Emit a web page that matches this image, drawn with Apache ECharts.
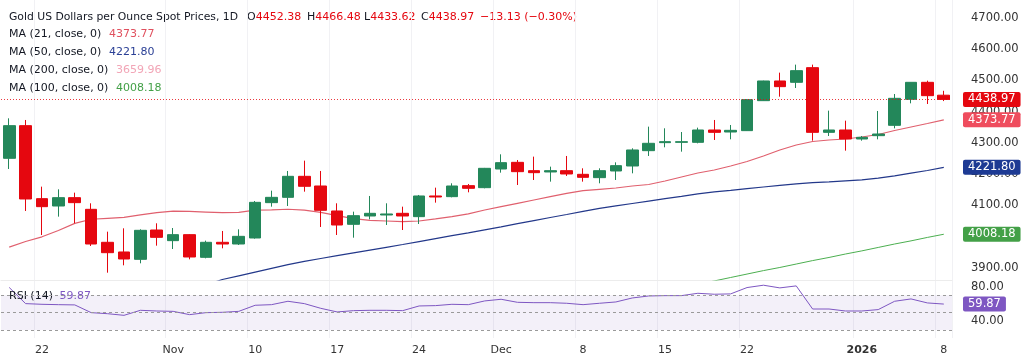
<!DOCTYPE html>
<html><head><meta charset="utf-8">
<script src="https://cdn.jsdelivr.net/npm/echarts@6/dist/echarts.min.js"></script>
<style>html,body{margin:0;padding:0;background:#fff}#c{width:1024px;height:364px}</style>
</head><body><div id="c"></div>
<script>
const dates = ['2025-10-20','2025-10-21','2025-10-22','2025-10-23','2025-10-24','2025-10-27','2025-10-28','2025-10-29','2025-10-30','2025-10-31',
'2025-11-03','2025-11-04','2025-11-05','2025-11-06','2025-11-07','2025-11-10','2025-11-11','2025-11-12','2025-11-13','2025-11-14',
'2025-11-17','2025-11-18','2025-11-19','2025-11-20','2025-11-21','2025-11-24','2025-11-25','2025-11-26','2025-11-27','2025-11-28',
'2025-12-01','2025-12-02','2025-12-03','2025-12-04','2025-12-05','2025-12-08','2025-12-09','2025-12-10','2025-12-11','2025-12-12',
'2025-12-15','2025-12-16','2025-12-17','2025-12-18','2025-12-19','2025-12-22','2025-12-23','2025-12-24','2025-12-26','2025-12-29',
'2025-12-30','2025-12-31','2026-01-01','2026-01-02','2026-01-05','2026-01-06','2026-01-07','2026-01-08'];
const tickDates = ['2025-10-22','2025-11-03','2025-11-10','2025-11-17','2025-11-24','2025-12-01','2025-12-08','2025-12-15','2025-12-22','2026-01-01','2026-01-08'];
const tickLabels = ['22','Nov','10','17','24','Dec','8','15','22','2026','8'];

const openV = [4250.7,4355.1,4121.9,4098.4,4125.1,4087.8,3982.4,3951.5,3928.0,4021.7,
3987.7,4006.9,3934.4,3982.4,3977.0,3996.2,4109.1,4126.1,4193.2,4162.3,
4082.5,4039.9,4066.5,4069.7,4075.0,4064.4,4130.4,4128.3,4163.4,4157.0,
4216.6,4237.9,4211.3,4207.1,4211.3,4199.6,4189.0,4210.3,4226.2,4275.2,
4300.8,4301.8,4301.8,4341.2,4334.8,4339.1,4434.9,4497.8,4493.5,4540.4,
4333.7,4341.2,4312.4,4323.1,4356.1,4439.2,4493.5,4452.38];
const closeV = [4355.1,4120.8,4096.3,4125.1,4109.1,3977.0,3949.3,3929.1,4020.7,3998.3,
4006.9,3935.5,3982.4,3977.0,4001.5,4110.1,4126.1,4193.2,4161.3,4084.6,
4037.7,4067.5,4075.0,4072.9,4066.5,4130.4,4127.2,4162.3,4154.9,4218.8,
4236.9,4208.1,4204.9,4211.3,4200.7,4190.0,4211.3,4227.3,4277.4,4298.7,
4304.0,4303.9,4341.2,4333.7,4340.1,4438.1,4497.8,4479.7,4530.8,4333.7,
4341.2,4312.4,4317.8,4328.4,4442.4,4493.5,4450.9,4438.97];
const lowV = [4216.7,4082.5,4005.8,4064.4,4043.1,3970.6,3885.4,3908.9,3915.3,3971.7,
3961.0,3928.0,3931.2,3963.2,3973.8,3994.0,4096.3,4098.4,4144.2,4031.4,
4005.8,3997.2,4055.8,4037.7,4021.7,4040.9,4109.1,4126.1,4142.1,4154.9,
4204.9,4165.5,4181.5,4176.2,4194.3,4176.2,4170.9,4181.5,4202.8,4258.2,
4285.9,4272.0,4298.6,4309.3,4311.4,4338.0,4433.9,4447.7,4475.4,4307.1,
4322.0,4275.2,4307.1,4311.4,4346.5,4426.4,4424.3,4433.62];
const highV = [4378.5,4373.2,4160.2,4151.7,4141.0,4107.0,4016.4,4027.1,4023.9,4043.1,
4028.1,4008.0,3987.7,4018.6,4023.9,4114.4,4147.4,4210.3,4243.3,4210.3,
4107.0,4080.3,4130.4,4107.0,4096.3,4133.6,4157.0,4170.9,4168.7,4220.0,
4263.5,4245.4,4256.1,4224.1,4258.2,4218.8,4218.8,4237.9,4282.7,4351.9,
4346.6,4334.8,4348.7,4373.2,4357.2,4440.0,4498.8,4524.4,4550.0,4550.0,
4403.0,4371.0,4322.0,4401.9,4456.2,4494.0,4498.8,4466.48];

const ma21 = [3967,3985,4000,4020,4043,4056,4059,4062,4070,4077,
4082,4081,4079,4077,4078,4085,4086,4088,4085,4078,
4067.5,4058,4052.6,4050.5,4048.4,4050.5,4057,4064.4,4073,4085.6,
4096.3,4107,4117.6,4128.3,4139,4147.4,4151.8,4155.9,4162.3,4167.1,
4178.3,4191.1,4203.8,4213.4,4226.2,4240.6,4258.1,4277.3,4293.3,4304.5,
4309.3,4312.5,4318.8,4326.8,4339.6,4350.8,4362.0,4373.77];
const ma50 = [null,null,null,null,null,null,null,null,null,null,
null,null,3846,3863.6,3875.4,3887.2,3899.0,3910.9,3921.7,3930.7,
3939.6,3948.6,3957.5,3966.5,3975.4,3984.7,3994.2,4003.5,4012.8,4022.4,
4032.0,4041.9,4051.8,4061.7,4071.2,4081.1,4090.7,4098.7,4106.4,4114.1,
4121.7,4129.4,4137.4,4143.5,4148.6,4154.0,4159.1,4164.0,4169.0,4172.8,
4175.7,4178.9,4182.1,4187.2,4194.9,4203.5,4211.8,4221.80];
const ma100 = [null,null,null,null,null,null,null,null,null,null,
null,null,null,null,null,null,null,null,null,null,
null,null,null,null,null,null,null,null,null,null,
null,null,null,null,null,null,null,null,null,null,
null,null,3848,3859,3870,3881,3892,3902,3913,3924,
3934,3945,3955,3966,3977,3987,3998,4008.18];
const ma200Last = 3659.96;
const rsi = [79,60.4,59.6,59.2,58.9,50,48.8,46.9,52.7,51.9,
51.5,47.7,50,50.4,51.5,58.5,59.2,63.1,60.4,55,
50.8,52.3,52.7,52.7,52.3,57.7,58.1,59.6,59.2,63.5,
65.4,61.9,61.5,61.5,60.8,59.2,60.8,62.3,66.9,69.2,
69.6,69.6,72.3,71.2,71.6,78.9,81.6,78.5,80.8,54.2,
54.2,51.9,51.9,53.5,63.1,65.8,61.2,59.87];
const priceTicks = [3900,4000,4100,4200,4300,4400,4500,4600,4700];
const rsiTicks = [40,80];
const rsiBands = [70,50,30];

const FONT = 'DejaVu Sans';
const UP = '#23875a', DOWN = '#e5070f';
const C21 = '#e0606e', C50 = '#23388a', C100 = '#4caf50', CRSI = '#7e57c2';
const last = a => a[a.length - 1];
const candleData = dates.map((d, i) => [openV[i], closeV[i], lowV[i], highV[i]]);
const HIDDEN = { color: 'rgba(0,0,0,0)', width: 0 };

function tag(value, bg, lineStyle) {
  return {
    yAxis: value,
    lineStyle: lineStyle || HIDDEN,
    label: {
      show: true, position: 'end', distance: 11, formatter: value.toFixed(2),
      backgroundColor: bg, color: '#fff', padding: [2, 5, 1, 5], fontSize: 11.5,
      fontFamily: FONT, borderRadius: 2, opacity: 1
    }
  };
}
function isTick(idx, val) { return tickDates.indexOf(val) >= 0; }

const xCommon = {
  type: 'category', data: dates, boundaryGap: true,
  axisTick: { show: false },
  splitLine: { show: true, interval: isTick, lineStyle: { color: '#f1f1f4', width: 1 } }
};
const legendFont = '11px "DejaVu Sans"';
function kv(k, v) {
  return { text: '{k|' + k + '}{v|' + v + '}', verticalAlign: 'middle',
    rich: { k: { font: legendFont, fill: '#131722' }, v: { font: legendFont, fill: DOWN } } };
}

const chart = echarts.init(document.getElementById('c'));
chart.setOption({
  animation: false,
  backgroundColor: '#fff',
  grid: [
    { left: 1, right: 72, top: 0, height: 280 },
    { left: 1, right: 72, top: 280, height: 58 }
  ],
  xAxis: [
    Object.assign({}, xCommon, { gridIndex: 0, axisLabel: { show: false },
      axisLine: { show: true, lineStyle: { color: '#ececec' } } }),
    Object.assign({}, xCommon, { gridIndex: 1, axisLine: { show: false },
      axisLabel: {
        interval: isTick, margin: 7, color: '#333', fontSize: 11, fontFamily: FONT,
        formatter: v => { const k = tickDates.indexOf(v); if (k < 0) return '';
          const t = tickLabels[k]; return t === '2026' ? '{b|' + t + '}' : t; },
        rich: { b: { fontWeight: 'bold', fontSize: 11, fontFamily: FONT, color: '#333' } }
      } })
  ],
  yAxis: [
    { gridIndex: 0, type: 'value', position: 'right', min: 3862, max: 4756.5, scale: true,
      axisLine: { show: false }, axisTick: { show: false, customValues: priceTicks },
      splitLine: { show: false },
      axisLabel: { customValues: priceTicks, formatter: v => v.toFixed(2), margin: 19,
        color: '#333', fontSize: 11.5, fontFamily: FONT, align: 'left' } },
    { gridIndex: 1, type: 'value', position: 'right', min: 20.8, max: 87.6, scale: true,
      axisLine: { show: false }, axisTick: { show: false, customValues: rsiTicks },
      splitLine: { show: false },
      axisLabel: { customValues: rsiTicks, formatter: v => v.toFixed(2), margin: 19,
        color: '#333', fontSize: 11.5, fontFamily: FONT, align: 'left' } }
  ],
  series: [
    { name: 'MA100', type: 'line', xAxisIndex: 0, yAxisIndex: 0, data: ma100, symbol: 'none',
      lineStyle: { color: C100, width: 1 }, z: 2,
      markLine: { silent: true, symbol: ['none', 'none'], z: 10, data: [tag(last(ma100), '#43a047')] } },
    { name: 'MA50', type: 'line', xAxisIndex: 0, yAxisIndex: 0, data: ma50, symbol: 'none',
      lineStyle: { color: C50, width: 1.2 }, z: 2,
      markLine: { silent: true, symbol: ['none', 'none'], z: 10, data: [tag(last(ma50), '#1d3a93')] } },
    { name: 'MA21', type: 'line', xAxisIndex: 0, yAxisIndex: 0, data: ma21, symbol: 'none',
      lineStyle: { color: C21, width: 1.2 }, z: 2,
      markLine: { silent: true, symbol: ['none', 'none'], z: 10, data: [tag(last(ma21), '#ef4d5e')] } },
    { name: 'Gold', type: 'candlestick', xAxisIndex: 0, yAxisIndex: 0, data: candleData,
      barWidth: '74%', z: 3,
      itemStyle: { color: UP, color0: DOWN, borderColor: UP, borderColor0: DOWN, borderWidth: 1 },
      markLine: { silent: true, symbol: ['none', 'none'], z: 11,
        data: [tag(last(closeV), '#e5070f', { color: '#e5070f', type: [1, 2], width: 1, opacity: 0.8 })] } },
    { name: 'RSI', type: 'line', xAxisIndex: 1, yAxisIndex: 1, data: rsi, symbol: 'none',
      lineStyle: { color: CRSI, width: 1 }, z: 3,
      markArea: { silent: true, itemStyle: { color: 'rgba(126,87,194,0.09)' },
        data: [[{ yAxis: rsiBands[0] }, { yAxis: rsiBands[2] }]] },
      markLine: { silent: true, symbol: ['none', 'none'], z: 10,
        data: rsiBands.map(b => ({ yAxis: b, lineStyle: { color: '#9a9a9a', type: [3, 3], width: 1 }, label: { show: false } }))
          .concat([tag(last(rsi), CRSI)]) } }
  ],
  graphic: [
    { type: 'text', x: 9, y: 17, style: { text: 'Gold US Dollars per Ounce Spot Prices, 1D', font: '10.8px "DejaVu Sans"', fill: '#131722', verticalAlign: 'middle' } },
    { type: 'text', x: 247, y: 17, style: kv('O', openV[57].toFixed(2)) },
    { type: 'text', x: 307, y: 17, style: kv('H', highV[57].toFixed(2)) },
    { type: 'text', x: 364, y: 17, style: kv('L', lowV[57].toFixed(2)) },
    { type: 'text', x: 421, y: 17, style: kv('C', closeV[57].toFixed(2)) },
    { type: 'text', x: 480, y: 17, style: { text: '\u221213.13 (\u22120.30%)', font: legendFont, fill: DOWN, verticalAlign: 'middle' } },
    { type: 'text', x: 9, y: 34, style: { text: 'MA (21, close, 0)', font: legendFont, fill: '#131722', verticalAlign: 'middle' } },
    { type: 'text', x: 109, y: 34, style: { text: last(ma21).toFixed(2), font: legendFont, fill: '#e0505e', verticalAlign: 'middle' } },
    { type: 'text', x: 9, y: 52, style: { text: 'MA (50, close, 0)', font: legendFont, fill: '#131722', verticalAlign: 'middle' } },
    { type: 'text', x: 109, y: 52, style: { text: last(ma50).toFixed(2), font: legendFont, fill: '#2a3f95', verticalAlign: 'middle' } },
    { type: 'text', x: 9, y: 70, style: { text: 'MA (200, close, 0)', font: legendFont, fill: '#131722', verticalAlign: 'middle' } },
    { type: 'text', x: 116, y: 70, style: { text: ma200Last.toFixed(2), font: legendFont, fill: '#f2a5b6', verticalAlign: 'middle' } },
    { type: 'text', x: 9, y: 88, style: { text: 'MA (100, close, 0)', font: legendFont, fill: '#131722', verticalAlign: 'middle' } },
    { type: 'text', x: 116, y: 88, style: { text: last(ma100).toFixed(2), font: legendFont, fill: '#43a047', verticalAlign: 'middle' } },
    { type: 'text', x: 9, y: 296, z: 10, style: { text: '{k|RSI (14)}  {v|' + last(rsi).toFixed(2) + '}', verticalAlign: 'middle', rich: { k: { font: legendFont, fill: '#131722' }, v: { font: legendFont, fill: CRSI } } } }
  ]
});
</script></body></html>
